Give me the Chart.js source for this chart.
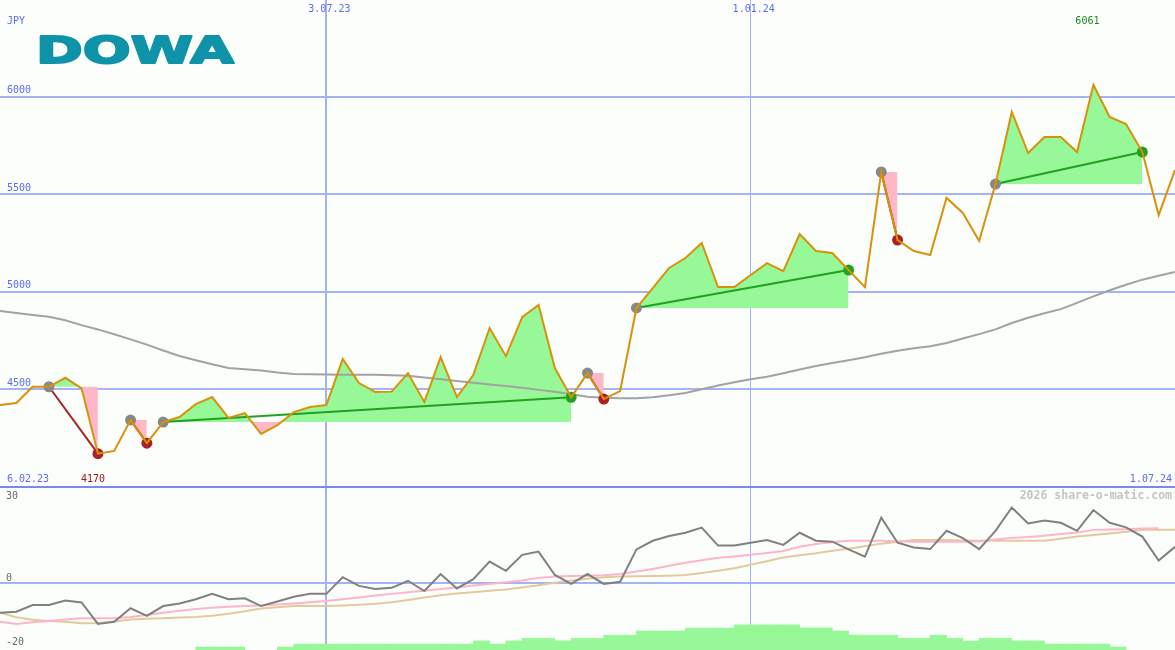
<!DOCTYPE html>
<html><head><meta charset="utf-8">
<script src="https://cdn.jsdelivr.net/npm/chart.js@4.4.1/dist/chart.umd.min.js"></script>
<style>html,body{margin:0;padding:0;background:#fcfefc;overflow:hidden}#c{display:block}</style>
</head><body>
<canvas id="c" width="1175" height="650"></canvas>
<script>
// ---- data ----
const company = 'DOWA';
const currency = 'JPY';
const weeks = ['13.02.23','20.02.23','27.02.23','6.03.23','13.03.23','20.03.23','27.03.23','3.04.23','10.04.23','17.04.23',
 '24.04.23','1.05.23','8.05.23','15.05.23','22.05.23','29.05.23','5.06.23','12.06.23','19.06.23','26.06.23',
 '3.07.23','10.07.23','17.07.23','24.07.23','31.07.23','7.08.23','14.08.23','21.08.23','28.08.23','4.09.23',
 '11.09.23','18.09.23','25.09.23','2.10.23','9.10.23','16.10.23','23.10.23','30.10.23','6.11.23','13.11.23',
 '20.11.23','27.11.23','4.12.23','11.12.23','18.12.23','25.12.23','1.01.24','8.01.24','15.01.24','22.01.24',
 '29.01.24','5.02.24','12.02.24','19.02.24','26.02.24','4.03.24','11.03.24','18.03.24','25.03.24','1.04.24',
 '8.04.24','15.04.24','22.04.24','29.04.24','6.05.24','13.05.24','20.05.24','27.05.24','3.06.24','10.06.24',
 '17.06.24','24.06.24','1.07.24'];
const price = [4419,4430,4513,4513,4559,4505,4170,4184,4342,4224,
 4332,4358,4424,4460,4353,4378,4271,4316,4383,4409,
 4419,4655,4532,4486,4488,4583,4435,4665,4460,4573,
 4814,4670,4870,4932,4609,4459,4583,4450,4491,4917,
 5019,5122,5173,5250,5024,5024,5086,5147,5106,5296,
 5209,5199,5111,5024,5614,5265,5209,5188,5481,5404,
 5260,5552,5922,5711,5793,5793,5716,6061,5896,5860,
 5716,5393,5624];
const movingAvg = [4901,4891,4881,4872,4854,4829,4807,4782,4756,4729,
 4699,4671,4649,4628,4609,4603,4596,4586,4578,4577,
 4576,4575,4574,4574,4572,4569,4561,4552,4542,4534,
 4525,4517,4508,4497,4487,4475,4462,4457,4454,4454,
 4459,4469,4481,4500,4519,4536,4552,4564,4582,4601,
 4619,4635,4649,4664,4682,4698,4710,4721,4737,4760,
 4783,4807,4840,4867,4890,4911,4943,4976,5008,5036,
 5062,5082,5102];
const momentum = [-9.3,-9.0,-6.9,-6.9,-5.5,-6.1,-12.8,-12.1,-7.9,-10.3,
 -7.2,-6.4,-5.1,-3.4,-5.1,-4.8,-7.2,-5.8,-4.3,-3.4,
 -3.4,1.8,-0.9,-1.9,-1.5,0.7,-2.5,2.8,-1.7,1.2,
 6.7,3.8,8.8,9.8,2.5,-0.3,2.8,-0.3,0.4,10.5,
 13.2,14.7,15.7,17.3,11.7,11.7,12.6,13.4,11.9,15.7,
 13.2,12.9,10.5,8.2,20.4,12.6,11.1,10.6,16.3,14.0,
 10.6,16.3,23.6,18.6,19.5,18.8,16.3,22.8,18.8,17.4,
 14.5,7.0,11.3];
const signalPink = [-12.1,-12.8,-12.3,-11.9,-11.4,-11.0,-11.0,-11.0,-10.6,-10.0,
 -9.3,-8.7,-8.1,-7.7,-7.4,-7.2,-7.0,-6.7,-6.4,-6.0,
 -5.6,-5.1,-4.5,-3.9,-3.4,-2.9,-2.4,-1.9,-1.4,-0.8,
 -0.3,0.2,0.8,1.6,2.0,2.2,2.3,2.4,2.8,3.6,
 4.4,5.4,6.3,7.1,7.9,8.3,8.8,9.4,10.0,11.3,
 12.2,12.8,13.2,13.2,13.2,13.0,12.9,12.9,12.9,12.9,
 13.0,13.6,14.1,14.4,14.8,15.3,15.8,16.6,16.7,16.8,
 17.0,17.1,null];
const signalTan = [-9.3,-10.7,-11.5,-11.9,-12.1,-12.6,-12.5,-12.0,-11.4,-11.2,
 -11.0,-10.8,-10.6,-10.2,-9.6,-8.8,-8.0,-7.6,-7.2,-7.2,
 -7.2,-7.0,-6.8,-6.5,-6.0,-5.3,-4.5,-3.8,-3.3,-2.9,
 -2.4,-2.0,-1.4,-0.7,0.1,0.8,1.3,1.8,2.0,2.1,
 2.2,2.3,2.5,3.1,3.8,4.6,5.7,6.8,8.0,8.7,
 9.3,10.1,10.7,11.5,12.3,12.9,13.4,13.4,13.4,13.3,
 13.2,13.2,13.2,13.2,13.2,13.8,14.5,15.0,15.5,16.0,
 16.6,16.6,16.6];
const histogram = [null,null,null,null,null,null,null,null,null,null,
 null,null,-20.0,-20.0,-20.0,null,null,-20.0,-19.1,-19.1,
 -19.1,-19.1,-19.1,-19.1,-19.1,-19.1,-19.1,-19.1,-19.1,-18.1,
 -19.1,-18.1,-17.3,-17.3,-18.1,-17.3,-17.3,-16.3,-16.3,-15.0,
 -15.0,-15.0,-14.1,-14.1,-14.1,-13.1,-13.1,-13.1,-13.1,-14.0,
 -14.0,-15.0,-16.3,-16.3,-16.3,-17.3,-17.3,-16.3,-17.3,-18.2,
 -17.3,-17.3,-18.1,-18.1,-19.1,-19.1,-19.1,-19.1,-20.0,null,
 null,null];
const segStart = [3,8,10,36,39,54,61];
const segEnd   = [6,9,35,37,52,55,70];
const gridWeeks = ['3.07.23','1.01.24'];
const priceTicks = [4500,5000,5500,6000];
const lowerTicks = [30,0,-20];
const rangeLabels = ['6.02.23','1.07.24'];
const watermark = '2026 share-o-matic.com';

// ---- styles ----
const BLUE_TXT = '#5b6cf4', GRID = '#a4b2f6', GRID_DARK = '#7b88f0';
const GREEN_FILL = '#96f896', PINK_FILL = '#ffb8c8';
const PRICE_COL = '#d8920a', UP_COL = '#22a022', DOWN_COL = '#a82222', DOT_GRAY = '#888888';

const pts = arr => arr.map((v,i)=>({x:i,y:v}));
const datasets = [];

segStart.forEach((s,k)=>{
  const e = segEnd[k];
  const up = price[e] >= price[s];
  datasets.push({type:'line', data: price.slice(s,e+1).map((v,j)=>({x:s+j,y:v})), yAxisID:'y',
    borderWidth:0, borderColor:'rgba(0,0,0,0)', pointRadius:0,
    fill:{target:{value:price[s]}, above:GREEN_FILL, below:PINK_FILL}, order:50});
  datasets.push({type:'line', data:[{x:s,y:price[s]},{x:e,y:price[e]}], yAxisID:'y',
    borderColor: up?UP_COL:DOWN_COL, borderWidth:2, pointRadius:0, fill:false, order:30});
});
datasets.push({type:'line', data:pts(movingAvg), yAxisID:'y', borderColor:'#a2a2a2', borderWidth:2, pointRadius:0, fill:false, order:40});
const dotPts = [], dotCols = [];
segStart.forEach((s,k)=>{
  const e = segEnd[k];
  dotPts.push({x:s,y:price[s]}); dotCols.push(DOT_GRAY);
  dotPts.push({x:e,y:price[e]}); dotCols.push(price[e]>=price[s]?UP_COL:DOWN_COL);
});
datasets.push({type:'line', data:dotPts, yAxisID:'y', showLine:false, pointRadius:5.5, pointBorderWidth:0,
  pointBackgroundColor:dotCols, pointBorderColor:dotCols, order:20});
datasets.push({type:'line', data:pts(price), yAxisID:'y', borderColor:PRICE_COL, borderWidth:2, pointRadius:0, fill:false, order:10});

datasets.push({type:'bar', data: histogram.map((v,i)=> v==null?null:{x:i+0.5,y:[-21,v]}).filter(d=>d),
  yAxisID:'y2', backgroundColor:GREEN_FILL, borderWidth:0, barPercentage:1, categoryPercentage:1, order:60});
datasets.push({type:'line', data:pts(signalTan), yAxisID:'y2', borderColor:'#e2ca9c', borderWidth:2, pointRadius:0, fill:false, order:46});
datasets.push({type:'line', data:pts(signalPink), yAxisID:'y2', borderColor:'#ffb4c8', borderWidth:2, pointRadius:0, fill:false, order:45});
datasets.push({type:'line', data:pts(momentum), yAxisID:'y2', borderColor:'#808080', borderWidth:2, pointRadius:0, fill:false, order:44});

const zeroFit = s => { if (s.isHorizontal()) s.height = 0; else s.width = 0; s.paddingTop=s.paddingBottom=s.paddingLeft=s.paddingRight=0; };

const textPlugin = {
  id:'texts',
  afterDraw(chart){
    const {ctx, scales:{x,y,y2}} = chart;
    ctx.save();
    ctx.font = 'bold 38px "DejaVu Sans"';
    const w = ctx.measureText(company).width;
    ctx.translate(36, 63); ctx.scale(198/w, 1);
    ctx.fillStyle = '#0e93a8'; ctx.strokeStyle = '#0e93a8'; ctx.lineWidth = 2; ctx.lineJoin = 'round';
    ctx.textBaseline='alphabetic'; ctx.textAlign='left';
    ctx.fillText(company, 0, 0);
    ctx.strokeText(company, 0, 0);
    ctx.restore();
    ctx.save();
    ctx.font = '10px "DejaVu Sans Mono"';
    ctx.textBaseline = 'middle';
    ctx.fillStyle = BLUE_TXT;
    ctx.textAlign = 'left';
    ctx.fillText(currency, 7, 21);
    priceTicks.forEach(v => ctx.fillText(String(v), 7, y.getPixelForValue(v) - 6));
    ctx.textAlign = 'center';
    gridWeeks.forEach(d => ctx.fillText(d, x.getPixelForValue(weeks.indexOf(d)) + 3, 9));
    const baseY = y2.getPixelForValue(30) - 8;
    ctx.textAlign = 'left'; ctx.fillText(rangeLabels[0], 7, baseY);
    ctx.textAlign = 'right'; ctx.fillText(rangeLabels[1], 1172, baseY);
    const vmax = Math.max(...price), vmin = Math.min(...price);
    ctx.textAlign = 'center';
    ctx.fillStyle = '#1a8c1a';
    ctx.fillText(String(vmax), x.getPixelForValue(price.indexOf(vmax)) - 6, 21);
    ctx.fillStyle = '#a01818';
    ctx.fillText(String(vmin), x.getPixelForValue(price.indexOf(vmin)) - 5, baseY);
    ctx.fillStyle = '#6a6a6a'; ctx.textAlign = 'left';
    lowerTicks.forEach(v => ctx.fillText(String(v), 6, y2.getPixelForValue(v) + (v===30 ? 9 : -5)));
    ctx.font = 'bold 11.5px "DejaVu Sans Mono"';
    ctx.fillStyle = '#c4c4c4'; ctx.textAlign = 'right';
    ctx.fillText(watermark, 1172, 496);
    ctx.restore();
  }
};

new Chart(document.getElementById('c'), {
  type:'line',
  data:{datasets},
  plugins:[textPlugin],
  options:{
    responsive:false, animation:false, devicePixelRatio:1,
    layout:{padding:0, autoPadding:false},
    plugins:{legend:{display:false}, tooltip:{enabled:false}},
    scales:{
      x:{type:'linear', min:0, max:weeks.length-1, offset:false, position:'bottom',
        afterBuildTicks: s => { s.ticks = gridWeeks.map(d=>({value:weeks.indexOf(d)})); },
        afterFit: zeroFit,
        ticks:{display:false}, border:{display:false},
        grid:{offset:false, drawTicks:false, color:GRID, lineWidth: c => (c.tick && c.tick.value===weeks.indexOf(gridWeeks[0])) ? 2 : 1}},
      y:{type:'linear', min:3163.5, max:6495.7, position:'left',
        afterBuildTicks: s => { s.ticks = priceTicks.map(v=>({value:v})); },
        afterFit: zeroFit,
        ticks:{display:false}, border:{display:false},
        grid:{offset:false, drawTicks:false, color:GRID, lineWidth:2}},
      y2:{type:'linear', min:-20.94, max:182.19, position:'left',
        afterBuildTicks: s => { s.ticks = lowerTicks.filter(v=>v!==-20).map(v=>({value:v})); },
        afterFit: zeroFit,
        ticks:{display:false}, border:{display:false},
        grid:{offset:false, drawTicks:false, color: c => (c.tick && c.tick.value===30) ? GRID_DARK : GRID, lineWidth:2}}
    }
  }
});
</script>
</body></html>
